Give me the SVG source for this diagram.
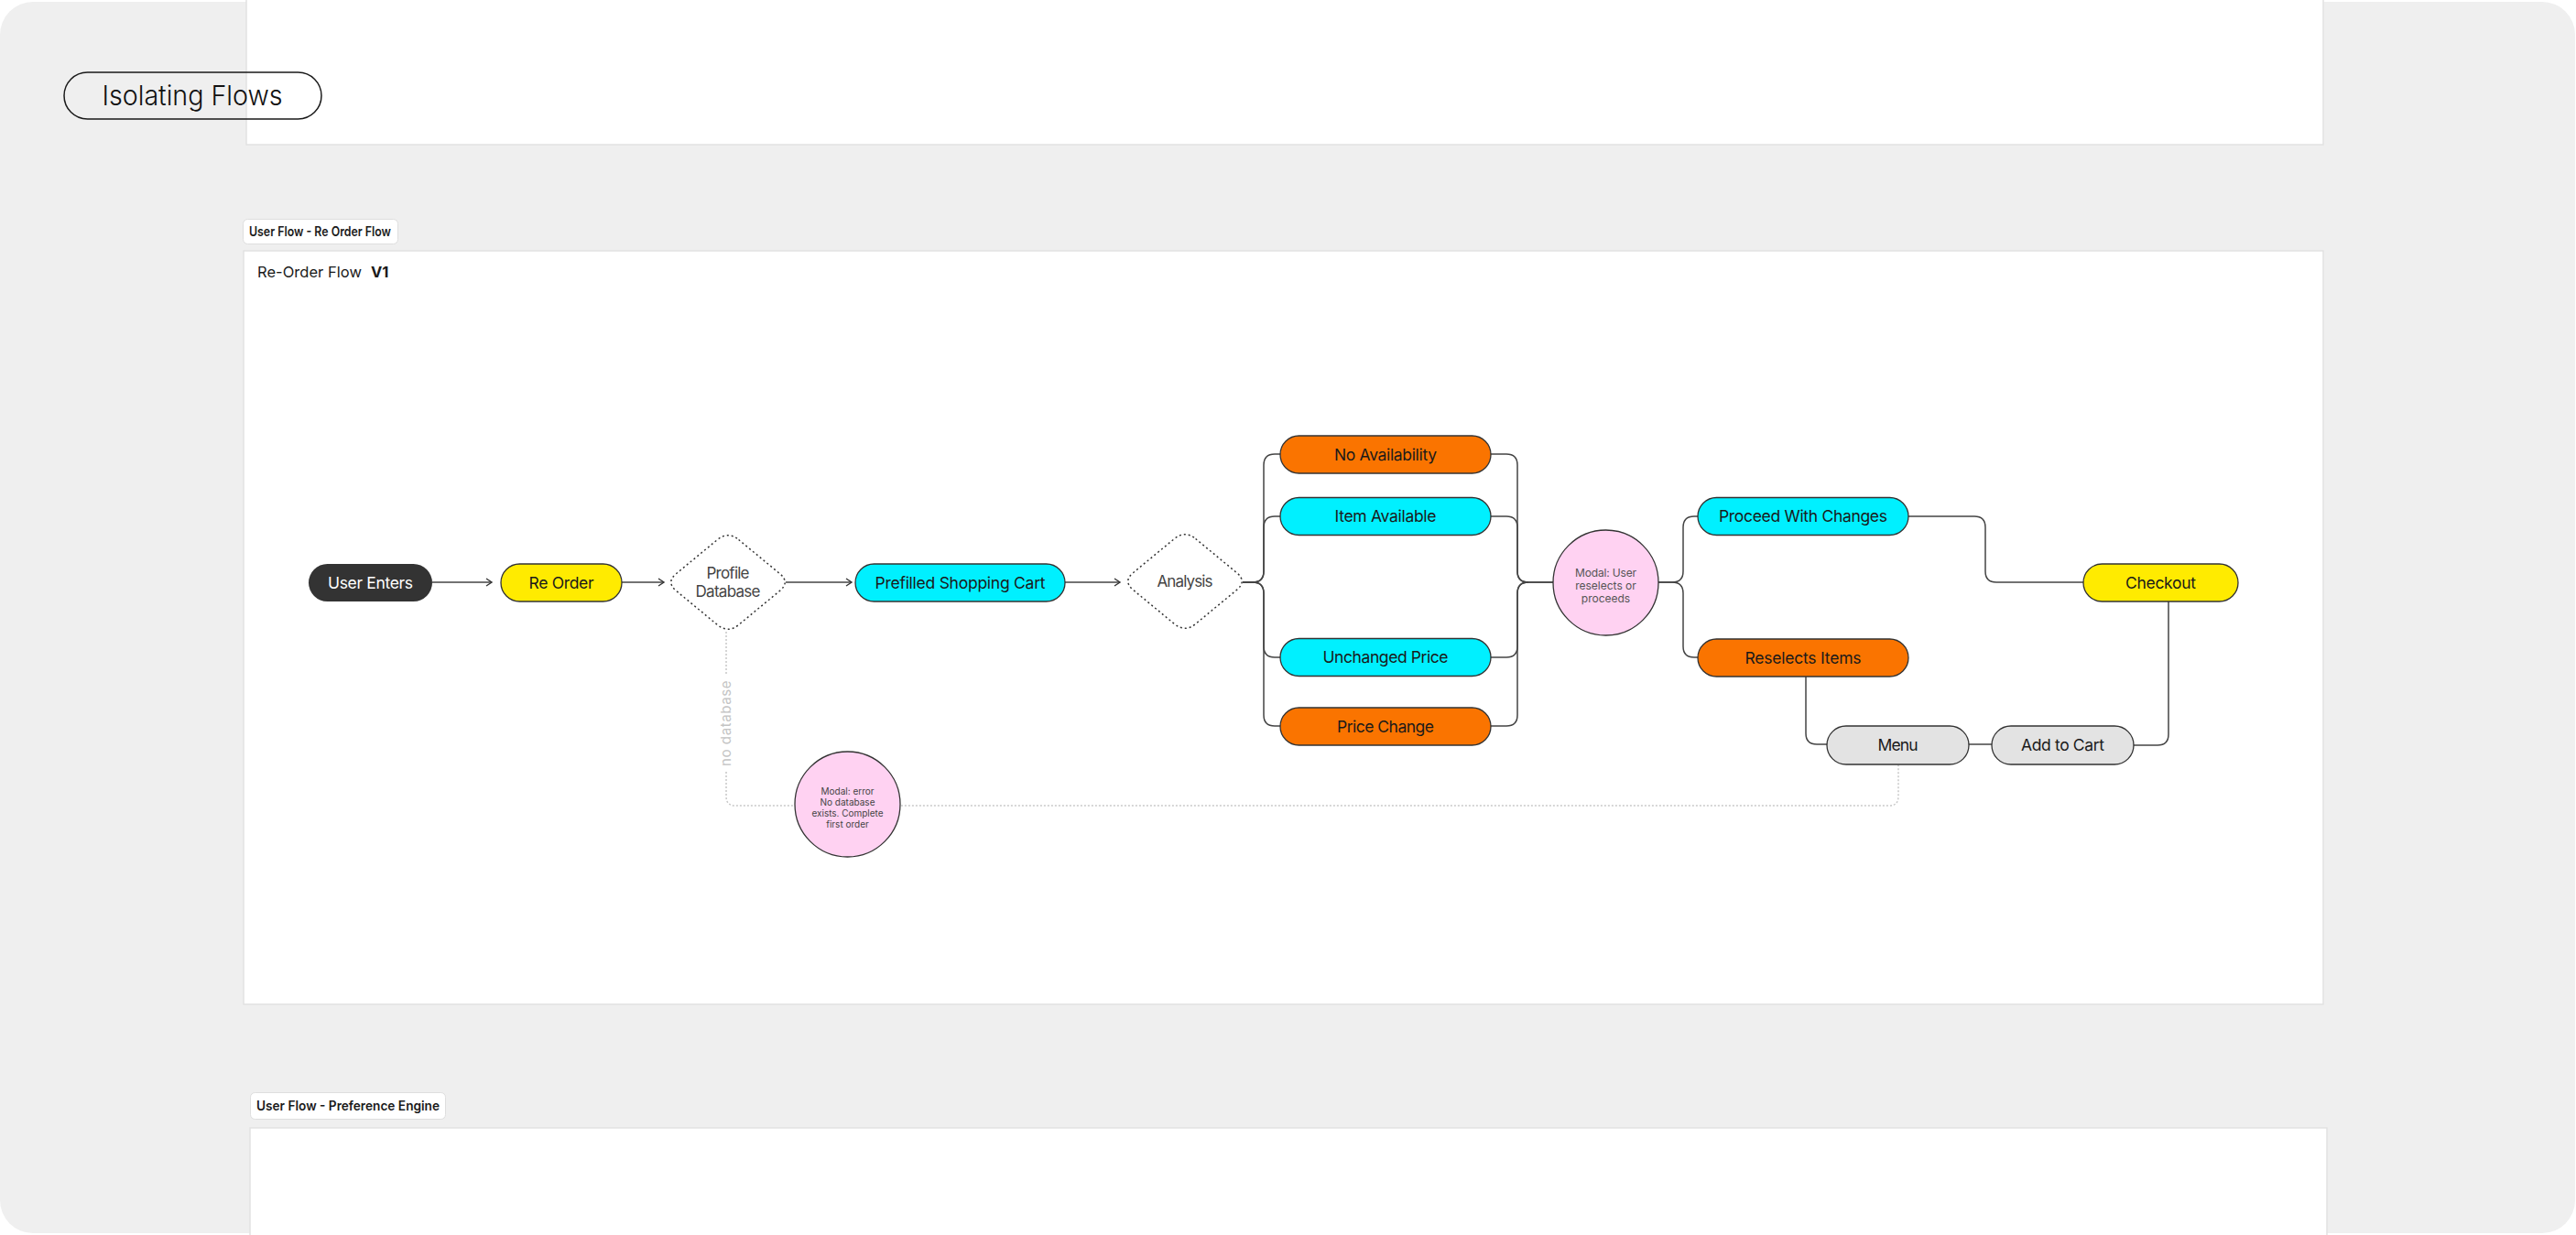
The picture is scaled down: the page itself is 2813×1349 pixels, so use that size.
<svg xmlns="http://www.w3.org/2000/svg" width="2813" height="1349" viewBox="0 0 2813 1349">
<style>
text{font-family:Inter,"Liberation Sans",Arial,sans-serif;}
.panel{fill:#ffffff;stroke:#e2e2e2;stroke-width:1.5;}
.tag{fill:#ffffff;stroke:#dedede;stroke-width:1;}
.tagt{font-size:14.5px;font-weight:600;fill:#1a1a1a;}
.node{stroke:#333333;stroke-width:1.3;}
.nt{font-size:17.5px;fill:#1a1a1a;text-anchor:middle;}
.orange{fill:#FA7400;}
.cyan{fill:#00F0FF;}
.yellow{fill:#FFEB00;}
.grey{fill:#E3E3E3;}
.pink{fill:#FFD2F2;}
.dia{fill:#ffffff;stroke:#333333;stroke-width:1.5;stroke-dasharray:2 3;}
.dt{font-size:17px;fill:#444444;text-anchor:middle;}
.conn{fill:none;stroke:#444444;stroke-width:1.5;}
.dot{fill:none;stroke:#c8c8c8;stroke-width:1.5;stroke-dasharray:2 2;}
.mt{fill:#555555;text-anchor:middle;}
</style>
<defs>
<marker id="arr" markerUnits="userSpaceOnUse" markerWidth="12" markerHeight="12" refX="7" refY="5" orient="auto">
<path d="M1,1 L7,5 L1,9" fill="none" stroke="#333333" stroke-width="1.4"/>
</marker>
<path id="diamond" d="M11.6 -46.5 L56.4 -9.5 Q68 0 56.4 9.5 L11.6 46.5 Q0 56 -11.6 46.5 L-56.4 9.5 Q-68 0 -56.4 -9.5 L-11.6 -46.5 Q0 -56 11.6 -46.5 Z"/>
</defs>

<rect x="0" y="0" width="2813" height="1349" fill="#ffffff"/>
<rect x="0" y="2" width="2812" height="1345" rx="36" fill="#EFEFEF"/>

<g id="panel-top">
<rect class="panel" x="269" y="-5" width="2268" height="163"/>
</g>
<g id="title">
<rect x="70" y="79" width="281" height="51" rx="25.5" fill="none" stroke="#1a1a1a" stroke-width="1.5"/>
<text x="210" y="115" font-size="30" font-weight="300" fill="#111111" text-anchor="middle" textLength="197" lengthAdjust="spacingAndGlyphs">Isolating Flows</text>
</g>

<g id="tag-reorder">
<rect class="tag" x="265.5" y="239.5" width="169" height="27" rx="5"/>
<text class="tagt" x="272" y="258" textLength="155" lengthAdjust="spacingAndGlyphs">User Flow - Re Order Flow</text>
</g>
<g id="panel-reorder">
<rect class="panel" x="266" y="274" width="2271" height="823"/>
<text x="281" y="303" font-size="16.5" fill="#1a1a1a" textLength="114">Re-Order Flow</text>
<text x="405" y="303" font-size="16.5" font-weight="700" fill="#1a1a1a">V1</text>
</g>

<g id="tag-preference">
<rect class="tag" x="273.5" y="1193.5" width="213" height="29" rx="5"/>
<text class="tagt" x="280" y="1213" font-size="15.5" textLength="200" lengthAdjust="spacingAndGlyphs">User Flow - Preference Engine</text>
</g>
<g id="panel-preference">
<rect class="panel" x="273" y="1232" width="2268" height="140"/>
</g>

<g id="connectors">
<path class="conn" d="M472 636 H537" marker-end="url(#arr)"/>
<path class="conn" d="M679 636 H725" marker-end="url(#arr)"/>
<path class="conn" d="M858 636 H930" marker-end="url(#arr)"/>
<path class="conn" d="M1163 636 H1223" marker-end="url(#arr)"/>
<path class="conn" d="M1357 636 H1368 Q1380 636 1380 624 V508 Q1380 496 1392 496 H1399"/>
<path class="conn" d="M1357 636 H1368 Q1380 636 1380 624 V576 Q1380 564 1392 564 H1399"/>
<path class="conn" d="M1357 636 H1368 Q1380 636 1380 648 V706 Q1380 718 1392 718 H1399"/>
<path class="conn" d="M1357 636 H1368 Q1380 636 1380 648 V781 Q1380 793 1392 793 H1399"/>
<path class="conn" d="M1627 496 H1645 Q1657 496 1657 508 V624 Q1657 636 1669 636 H1697"/>
<path class="conn" d="M1627 564 H1645 Q1657 564 1657 576 V624 Q1657 636 1669 636"/>
<path class="conn" d="M1627 718 H1645 Q1657 718 1657 706 V648 Q1657 636 1669 636"/>
<path class="conn" d="M1627 793 H1645 Q1657 793 1657 781 V648 Q1657 636 1669 636 H1697"/>
<path class="conn" d="M1810 636 H1826 Q1838 636 1838 624 V576 Q1838 564 1850 564 H1855"/>
<path class="conn" d="M1810 636 H1826 Q1838 636 1838 648 V706 Q1838 718 1850 718 H1855"/>
<path class="conn" d="M2083 564 H2156 Q2168 564 2168 576 V624 Q2168 636 2180 636 H2276"/>
<path class="conn" d="M1972 739 V801 Q1972 813 1984 813 H1996"/>
<path class="conn" d="M2149 813 H2176"/>
<path class="conn" d="M2329 814 H2356 Q2368 814 2368 802 V657"/>
<path class="dot" d="M793 690 V736"/>
<path class="dot" d="M793 843 V870 Q793 880 803 880 H2063 Q2073 880 2073 870 V835"/>
<text x="0" y="0" font-size="15" fill="#c4c4c4" letter-spacing="1.5" text-anchor="middle" textLength="95" transform="translate(798 789.5) rotate(-90)">no database</text>
</g>

<g id="user-enters">
<rect x="337" y="616" width="135" height="41" rx="20.5" fill="#333333"/>
<text class="nt" x="404.5" y="642.5" style="fill:#ffffff" textLength="93">User Enters</text>
</g>
<g id="re-order">
<rect class="node yellow" x="547" y="616" width="132" height="41" rx="20.5"/>
<text class="nt" x="613" y="642.5" textLength="71">Re Order</text>
</g>
<g id="profile-database">
<use href="#diamond" class="dia" transform="translate(795 636)"/>
<text class="dt" x="795" y="632" textLength="47">Profile</text>
<text class="dt" x="795" y="652" textLength="71">Database</text>
</g>
<g id="prefilled-cart">
<rect class="node cyan" x="934" y="616" width="229" height="41" rx="20.5"/>
<text class="nt" x="1048.5" y="642.5" textLength="186">Prefilled Shopping Cart</text>
</g>
<g id="analysis">
<use href="#diamond" class="dia" transform="translate(1294 635)"/>
<text class="dt" x="1294" y="641" textLength="61">Analysis</text>
</g>
<g id="no-availability">
<rect class="node orange" x="1398" y="476" width="230" height="41" rx="20.5"/>
<text class="nt" x="1513" y="502.5" textLength="112">No Availability</text>
</g>
<g id="item-available">
<rect class="node cyan" x="1398" y="543.5" width="230" height="41" rx="20.5"/>
<text class="nt" x="1513" y="570" textLength="111">Item Available</text>
</g>
<g id="unchanged-price">
<rect class="node cyan" x="1398" y="697.5" width="230" height="41" rx="20.5"/>
<text class="nt" x="1513" y="724" textLength="137">Unchanged Price</text>
</g>
<g id="price-change">
<rect class="node orange" x="1398" y="773" width="230" height="41" rx="20.5"/>
<text class="nt" x="1513" y="799.5" textLength="106">Price Change</text>
</g>
<g id="modal-user">
<circle class="node pink" cx="1753.5" cy="636.5" r="57.5"/>
<text class="mt" x="1753.5" y="630" font-size="12" textLength="67">Modal: User</text>
<text class="mt" x="1753.5" y="644" font-size="12">reselects or</text>
<text class="mt" x="1753.5" y="658" font-size="12">proceeds</text>
</g>
<g id="proceed-with-changes">
<rect class="node cyan" x="1854" y="543.5" width="230" height="41" rx="20.5"/>
<text class="nt" x="1969" y="570" textLength="184">Proceed With Changes</text>
</g>
<g id="reselects-items">
<rect class="node orange" x="1854" y="698" width="230" height="41" rx="20.5"/>
<text class="nt" x="1969" y="724.5" textLength="127">Reselects Items</text>
</g>
<g id="checkout">
<rect class="node yellow" x="2275" y="616" width="169" height="41" rx="20.5"/>
<text class="nt" x="2359.5" y="642.5" textLength="77">Checkout</text>
</g>
<g id="menu">
<rect class="node grey" x="1995" y="793" width="155" height="42" rx="21"/>
<text class="nt" x="2072.5" y="820" textLength="44">Menu</text>
</g>
<g id="add-to-cart">
<rect class="node grey" x="2175" y="793" width="155" height="42" rx="21"/>
<text class="nt" x="2252.5" y="820" textLength="91">Add to Cart</text>
</g>
<g id="modal-error">
<circle class="node pink" cx="925.5" cy="878.5" r="57.5"/>
<text class="mt" x="925.5" y="868" font-size="10" style="fill:#444444">Modal: error</text>
<text class="mt" x="925.5" y="880" font-size="10" style="fill:#444444">No database</text>
<text class="mt" x="925.5" y="892" font-size="10" style="fill:#444444" textLength="78">exists. Complete</text>
<text class="mt" x="925.5" y="904" font-size="10" style="fill:#444444">first order</text>
</g>
</svg>
